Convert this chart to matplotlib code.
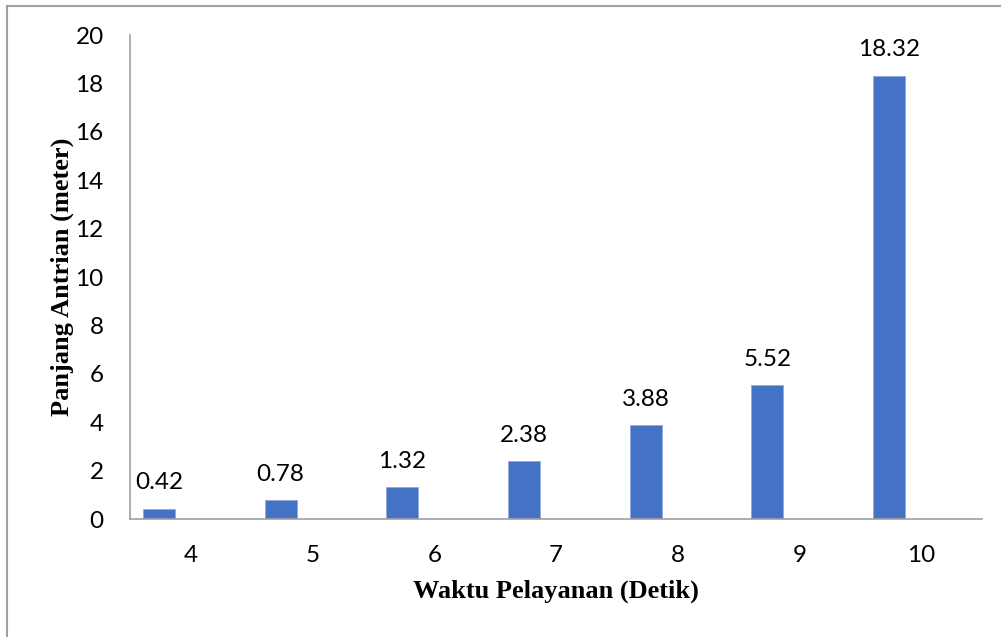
import matplotlib.pyplot as plt
from matplotlib.lines import Line2D
import numpy as np

waktu = ['4', '5', '6', '7', '8', '9', '10']
panjang = [0.42, 0.78, 1.32, 2.38, 3.88, 5.52, 18.32]

fig = plt.figure(figsize=(10.01, 6.37), dpi=100)
ax = fig.add_axes([0.1299, 0.1852, 0.8511, 0.7598])

x = np.arange(len(waktu))
bw = 0.263
bars = ax.bar(x - bw, panjang, width=bw, color='#4472C4',
              edgecolor='#8FAADC', linewidth=0.6)

for xi, v in zip(x - bw, panjang):
    ax.annotate(f'{v:.2f}', (xi, v), xytext=(0, 14), textcoords='offset points',
                ha='center', va='baseline', fontsize=17.5, family='Lato')

ax.set_xlim(-0.5, len(waktu) - 0.5)
ax.set_ylim(0, 20)
ax.set_yticks(range(0, 21, 2))
ax.set_xticks(x)
ax.set_xticklabels(waktu)
ax.tick_params(length=0, labelsize=17.5)
ax.tick_params(axis='x', pad=19)
ax.tick_params(axis='y', pad=19)
for lab in ax.get_xticklabels() + ax.get_yticklabels():
    lab.set_family('Lato')

for s in ['top', 'right']:
    ax.spines[s].set_visible(False)
for s in ['left', 'bottom']:
    ax.spines[s].set_color('#a0a0a0')
    ax.spines[s].set_linewidth(1.2)

ax.set_xlabel('Waktu Pelayanan (Detik)', fontsize=19, fontweight='bold',
              family='Liberation Serif', va='center')
ax.set_ylabel('Panjang Antrian (meter)', fontsize=19, fontweight='bold',
              family='Liberation Serif', va='center')
ax.xaxis.set_label_coords(0.5, -0.149)
ax.yaxis.set_label_coords(-0.0798, 0.5)

# outer chart border (top and left edges)
fig.add_artist(Line2D([6.5 / 1001, 1.0], [1 - 5.5 / 637] * 2, color='#a0a0a0', lw=1.5))
fig.add_artist(Line2D([6.5 / 1001] * 2, [0.0, 1 - 5.5 / 637], color='#a0a0a0', lw=1.5))

fig.savefig('out.png', dpi=100)
